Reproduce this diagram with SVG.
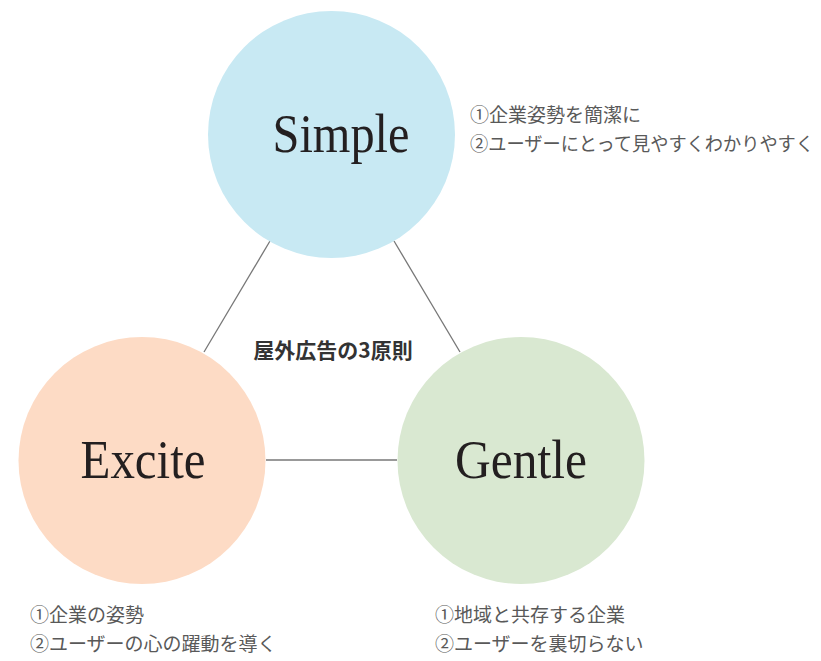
<svg xmlns="http://www.w3.org/2000/svg" width="821" height="661" viewBox="0 0 821 661">
<style>
.lbl{font-family:"Liberation Serif","DejaVu Serif",serif;font-size:54px;fill:#231f20;text-anchor:middle}
.note{font-family:"Noto Sans CJK JP",sans-serif;font-size:19px;fill:#595959}
.title{font-family:"Noto Sans CJK JP",sans-serif;font-size:21px;font-weight:bold;fill:#333;text-anchor:middle}
.con{stroke:#777;stroke-width:1.3;fill:none}
</style>
<rect width="821" height="661" fill="#fff"/>
<g id="connectors">
<line class="con" x1="270" y1="241" x2="204" y2="352"/>
<line class="con" x1="394" y1="241" x2="460" y2="352"/>
<line class="con" x1="266" y1="460" x2="397" y2="460"/>
</g>
<g id="simple">
<circle cx="331.5" cy="134.5" r="123.5" fill="#c8e9f3"/>
<text class="lbl" x="341" y="152" textLength="137" lengthAdjust="spacingAndGlyphs">Simple</text>
<text class="note" x="470" y="122">①企業姿勢を簡潔に</text>
<text class="note" x="470" y="151" textLength="344" lengthAdjust="spacingAndGlyphs">②ユーザーにとって見やすくわかりやすく</text>
</g>
<g id="excite">
<circle cx="142" cy="460.5" r="123.5" fill="#fddbc5"/>
<text class="lbl" x="143" y="478" textLength="125" lengthAdjust="spacingAndGlyphs">Excite</text>
<text class="note" x="30" y="622">①企業の姿勢</text>
<text class="note" x="30" y="651">②ユーザーの心の躍動を導く</text>
</g>
<g id="gentle">
<circle cx="521" cy="460.5" r="123.5" fill="#d9e8d1"/>
<text class="lbl" x="521" y="478" textLength="132" lengthAdjust="spacingAndGlyphs">Gentle</text>
<text class="note" x="435" y="622">①地域と共存する企業</text>
<text class="note" x="435" y="651">②ユーザーを裏切らない</text>
</g>
<g id="center">
<text class="title" x="333" y="358">屋外広告の3原則</text>
</g>
</svg>
